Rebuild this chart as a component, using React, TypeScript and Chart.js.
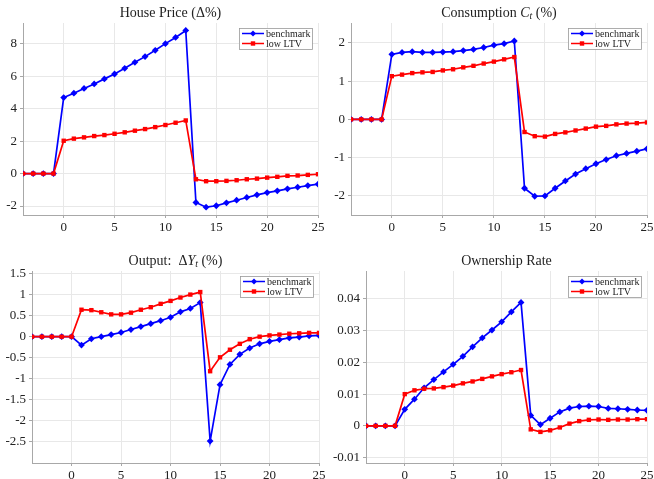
import React, { useEffect, useRef } from "react";
import { Chart, registerables } from "chart.js";

Chart.register(...registerables);

// ---------- data ----------
const XS = [-4, -3, -2, -1, 0, 1, 2, 3, 4, 5, 6, 7, 8, 9, 10, 11, 12, 13, 14, 15, 16, 17, 18, 19, 20, 21, 22, 23, 24, 25];
const X_TICKS = [0, 5, 10, 15, 20, 25];
const SERIES_LABELS = ["benchmark", "low LTV"];

const HOUSE_BENCH = [0, 0, 0, 0, 4.68, 4.95, 5.24, 5.52, 5.83, 6.13, 6.48, 6.85, 7.2, 7.59, 8.0, 8.38, 8.81, -1.78, -2.07, -1.98, -1.8, -1.64, -1.47, -1.31, -1.17, -1.06, -0.94, -0.84, -0.74, -0.65];
const HOUSE_LTV = [0, 0, 0, 0, 2.02, 2.15, 2.23, 2.31, 2.37, 2.45, 2.54, 2.64, 2.74, 2.86, 2.99, 3.13, 3.27, -0.35, -0.47, -0.47, -0.45, -0.41, -0.35, -0.31, -0.25, -0.2, -0.14, -0.12, -0.08, -0.04];
const HOUSE_Y_TICKS = [-2, 0, 2, 4, 6, 8];

const CONS_BENCH = [0, 0, 0, 0, 1.7, 1.75, 1.77, 1.75, 1.75, 1.76, 1.77, 1.8, 1.83, 1.88, 1.94, 1.98, 2.05, -1.8, -2.01, -2.0, -1.8, -1.61, -1.43, -1.29, -1.16, -1.05, -0.95, -0.89, -0.83, -0.77];
const CONS_LTV = [0, 0, 0, 0, 1.13, 1.17, 1.21, 1.23, 1.24, 1.28, 1.31, 1.36, 1.4, 1.46, 1.51, 1.57, 1.63, -0.33, -0.44, -0.45, -0.38, -0.34, -0.29, -0.24, -0.19, -0.17, -0.13, -0.11, -0.1, -0.08];
const CONS_Y_TICKS = [-2, -1, 0, 1, 2];

const OUT_BENCH = [0, 0, 0, 0, 0, -0.2, -0.05, 0.0, 0.05, 0.1, 0.17, 0.24, 0.31, 0.38, 0.46, 0.59, 0.67, 0.81, -2.48, -1.14, -0.66, -0.42, -0.27, -0.17, -0.11, -0.07, -0.03, -0.01, 0.02, 0.03];
const OUT_LTV = [0, 0, 0, 0, 0, 0.64, 0.63, 0.58, 0.53, 0.53, 0.57, 0.64, 0.7, 0.78, 0.85, 0.93, 1.0, 1.06, -0.82, -0.49, -0.31, -0.17, -0.06, 0.0, 0.03, 0.05, 0.07, 0.08, 0.09, 0.09];
const OUT_Y_TICKS = [-2.5, -2, -1.5, -1, -0.5, 0, 0.5, 1, 1.5];

const OWN_BENCH = [0, 0, 0, 0, 0.0052, 0.0084, 0.012, 0.0146, 0.017, 0.0194, 0.0219, 0.0249, 0.0277, 0.0302, 0.0328, 0.0359, 0.0389, 0.0033, 0.0004, 0.0024, 0.0044, 0.0056, 0.0061, 0.0062, 0.0061, 0.0055, 0.0054, 0.0052, 0.005, 0.0049];
const OWN_LTV = [0, 0, 0, 0, 0.01, 0.0112, 0.0117, 0.0118, 0.0122, 0.0127, 0.0134, 0.014, 0.0148, 0.0156, 0.0163, 0.0169, 0.0176, -0.0011, -0.0019, -0.0014, -0.0005, 0.0007, 0.0015, 0.0019, 0.002, 0.0019, 0.002, 0.002, 0.0021, 0.0021];
const OWN_Y_TICKS = [-0.01, 0, 0.01, 0.02, 0.03, 0.04];

// ---------- styling ----------
const BLUE = "#0000ff";
const RED = "#ff0000";
const SERIF = "'Liberation Serif', 'DejaVu Serif', serif";
const AXIS_W = 45;
const AXIS_H = 22;
const PAD_TOP = 25;
const PAD_RIGHT = 12;

type Seg = { t: string; s?: "it" | "sub" };

const titlePlugin = {
  id: "segTitle",
  afterDraw(chart: any) {
    const segs: Seg[] = chart.options.plugins.segTitle?.segs || [];
    const { ctx, chartArea } = chart;
    const size = 14;
    const fontFor = (s?: string) =>
      s === "it" ? `italic ${size}px ${SERIF}` : s === "sub" ? `italic ${size * 0.7}px ${SERIF}` : `${size}px ${SERIF}`;
    ctx.save();
    let total = 0;
    for (const sg of segs) {
      ctx.font = fontFor(sg.s);
      total += ctx.measureText(sg.t).width;
    }
    let x = (chartArea.left + chartArea.right) / 2 - total / 2;
    const y = chartArea.top - 10;
    ctx.textBaseline = "middle";
    ctx.fillStyle = "#222";
    for (const sg of segs) {
      ctx.font = fontFor(sg.s);
      ctx.fillText(sg.t, x, sg.s === "sub" ? y + 3 : y);
      x += ctx.measureText(sg.t).width;
    }
    ctx.restore();
  },
};

const legendPlugin = {
  id: "boxLegend",
  afterDraw(chart: any) {
    const { ctx, chartArea } = chart;
    const w = 73;
    const h = 21;
    const x = chartArea.right - 6 - w;
    const y = chartArea.top + 5;
    ctx.save();
    ctx.fillStyle = "#fff";
    ctx.fillRect(x, y, w, h);
    ctx.strokeStyle = "#9a9a9a";
    ctx.lineWidth = 0.8;
    ctx.strokeRect(x + 0.5, y + 0.5, w, h);
    const items = [0, 1].map((i) => chart.data.datasets.find((d: any) => d.label === SERIES_LABELS[i]));
    items.forEach((ds: any, i: number) => {
      const cy = y + 5.5 + i * 10;
      ctx.strokeStyle = ds.borderColor;
      ctx.lineWidth = 1.5;
      ctx.beginPath();
      ctx.moveTo(x + 3, cy);
      ctx.lineTo(x + 25, cy);
      ctx.stroke();
      ctx.fillStyle = ds.borderColor;
      ctx.beginPath();
      if (ds.pointStyle === "rectRot") {
        const r = 3;
        ctx.moveTo(x + 14, cy - r);
        ctx.lineTo(x + 14 + r, cy);
        ctx.lineTo(x + 14, cy + r);
        ctx.lineTo(x + 14 - r, cy);
        ctx.closePath();
      } else {
        ctx.rect(x + 14 - 2.2, cy - 2.2, 4.4, 4.4);
      }
      ctx.fill();
      ctx.fillStyle = "#222";
      ctx.font = `10px ${SERIF}`;
      ctx.textBaseline = "middle";
      ctx.fillText(SERIES_LABELS[i], x + 27, cy + 0.5);
    });
    ctx.restore();
  },
};

function fmt(v: number) {
  const n = Number(v.toFixed(6));
  return String(n);
}

type PanelProps = {
  L: number; T: number; R: number; B: number;
  bench: number[]; ltv: number[];
  yMin: number; yMax: number; yTicks: number[];
  title: Seg[];
};

function Panel({ L, T, R, B, bench, ltv, yMin, yMax, yTicks, title }: PanelProps) {
  const ref = useRef<HTMLCanvasElement | null>(null);
  const left = Math.round(L) - AXIS_W;
  const top = Math.round(T) - PAD_TOP;
  const width = Math.round(R) + PAD_RIGHT - left;
  const height = Math.round(B) + AXIS_H - top;

  useEffect(() => {
    if (!ref.current) return;
    const chart = new Chart(ref.current, {
      type: "line",
      data: {
        datasets: [
          {
            label: SERIES_LABELS[0],
            data: XS.map((x, i) => ({ x, y: bench[i] })),
            borderColor: BLUE,
            backgroundColor: BLUE,
            borderWidth: 1.7,
            pointStyle: "rectRot",
            pointRadius: 3.4,
            pointBorderWidth: 0,
            order: 1,
          },
          {
            label: SERIES_LABELS[1],
            data: XS.map((x, i) => ({ x, y: ltv[i] })),
            borderColor: RED,
            backgroundColor: RED,
            borderWidth: 1.7,
            pointStyle: "rect",
            pointRadius: 3.1,
            pointBorderWidth: 0,
            order: 0,
          },
        ],
      },
      options: {
        animation: false,
        responsive: false,
        devicePixelRatio: 1,
        layout: { padding: { left: 0, top: PAD_TOP, right: PAD_RIGHT, bottom: 0 } },
        plugins: {
          legend: { display: false },
          tooltip: { enabled: false },
          title: { display: false },
          segTitle: { segs: title },
        } as any,
        scales: {
          x: {
            type: "linear",
            min: -4,
            max: 25,
            afterBuildTicks: (s: any) => { s.ticks = X_TICKS.map((v) => ({ value: v })); },
            afterFit: (s: any) => { s.height = AXIS_H; },
            grid: { color: "#e8e8e8", lineWidth: 1, tickLength: 3, tickColor: "#a8a8a8" },
            border: { display: true, color: "#a8a8a8", width: 1 },
            ticks: {
              padding: 2,
              maxRotation: 0,
              color: "#222",
              font: { family: SERIF, size: 13 },
              callback: (v: any) => fmt(Number(v)),
            },
          },
          y: {
            type: "linear",
            min: yMin,
            max: yMax,
            afterBuildTicks: (s: any) => { s.ticks = yTicks.map((v) => ({ value: v })); },
            afterFit: (s: any) => { s.width = AXIS_W; },
            grid: { color: "#e8e8e8", lineWidth: 1, tickLength: 3, tickColor: "#a8a8a8" },
            border: { display: true, color: "#a8a8a8", width: 1 },
            ticks: {
              padding: 3,
              color: "#222",
              font: { family: SERIF, size: 13 },
              callback: (v: any) => fmt(Number(v)),
            },
          },
        },
      },
      plugins: [titlePlugin, legendPlugin],
    } as any);
    return () => chart.destroy();
  }, []);

  return (
    <canvas
      ref={ref}
      width={width}
      height={height}
      style={{ position: "absolute", left, top, width, height }}
    />
  );
}

export default function App() {
  return (
    <div style={{ position: "fixed", left: 0, top: 0, width: 654, height: 479, background: "#fff", overflow: "hidden" }}>
      <Panel L={23} T={23} R={318} B={215} bench={HOUSE_BENCH} ltv={HOUSE_LTV}
        yMin={-2.55} yMax={9.27} yTicks={HOUSE_Y_TICKS} title={[{ t: "House Price (Δ%)" }]} />
      <Panel L={351} T={23} R={647} B={215} bench={CONS_BENCH} ltv={CONS_LTV}
        yMin={-2.5} yMax={2.52} yTicks={CONS_Y_TICKS}
        title={[{ t: "Consumption " }, { t: "C", s: "it" }, { t: "t", s: "sub" }, { t: " (%)" }]} />
      <Panel L={32} T={271} R={319} B={463} bench={OUT_BENCH} ltv={OUT_LTV}
        yMin={-3} yMax={1.56} yTicks={OUT_Y_TICKS}
        title={[{ t: "Output:  Δ" }, { t: "Y", s: "it" }, { t: "t", s: "sub" }, { t: " (%)" }]} />
      <Panel L={366} T={271} R={647} B={463} bench={OWN_BENCH} ltv={OWN_LTV}
        yMin={-0.0117} yMax={0.0488} yTicks={OWN_Y_TICKS} title={[{ t: "Ownership Rate" }]} />
    </div>
  );
}
